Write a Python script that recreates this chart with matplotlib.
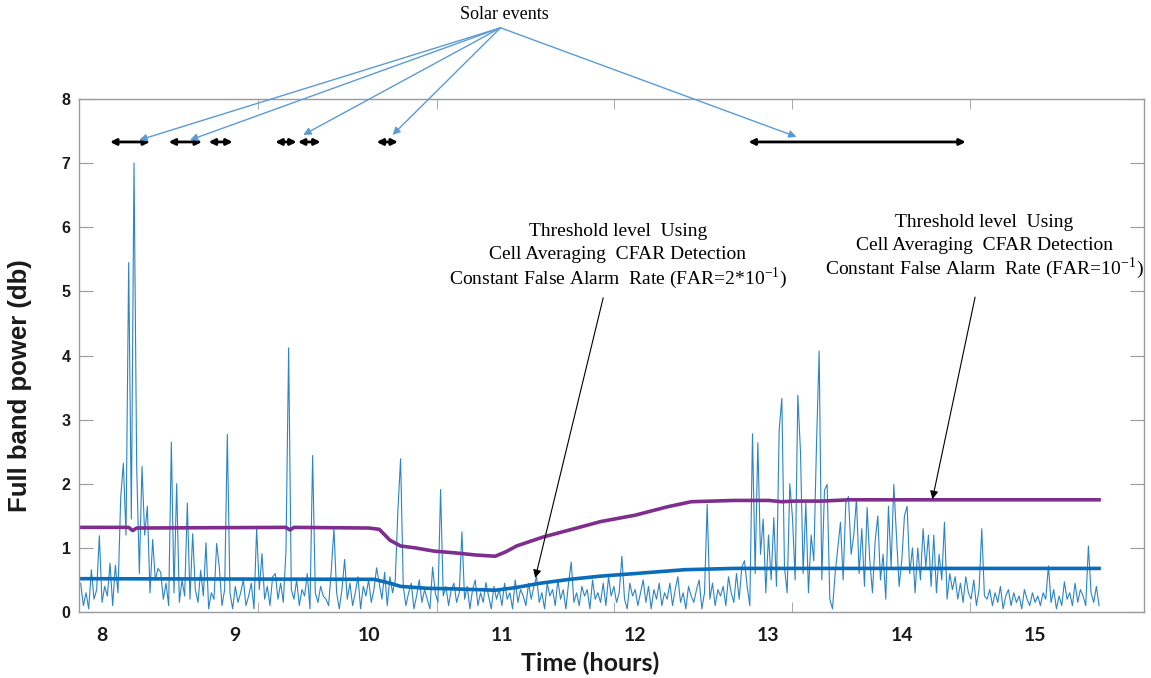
import numpy as np
import matplotlib
matplotlib.use("Agg")
import matplotlib.pyplot as plt

# full band power, one value every 0.02 h starting at 7.84 h
t_start = 7.84
t_step = 0.02
power = [
    0.45, 0.10, 0.30, 0.05, 0.66, 0.20, 0.35, 1.19, 0.15, 0.40,
    0.25, 0.76, 0.10, 0.73, 0.30, 1.78, 2.32, 1.20, 5.45, 1.45,
    7.00, 2.28, 0.60, 2.27, 1.20, 1.65, 0.30, 1.13, 0.50, 0.68,
    0.62, 0.20, 0.45, 0.10, 2.65, 0.30, 2.00, 0.15, 0.50, 0.25,
    1.70, 0.20, 1.22, 0.35, 0.15, 0.65, 0.25, 1.08, 0.05, 0.30,
    0.20, 1.07, 0.69, 0.10, 0.35, 2.77, 0.30, 0.05, 0.40, 0.15,
    0.30, 0.50, 0.10, 0.25, 0.45, 0.05, 1.31, 0.35, 0.91, 0.20,
    0.40, 0.10, 0.55, 0.60, 0.20, 0.45, 0.15, 0.95, 4.12, 0.35,
    0.20, 0.50, 0.10, 0.35, 0.25, 0.60, 0.05, 2.44, 0.30, 0.15,
    0.40, 0.25, 0.20, 0.10, 0.65, 1.30, 0.30, 0.05, 0.35, 0.82,
    0.20, 0.45, 0.10, 0.30, 0.55, 0.05, 0.40, 0.25, 0.50, 0.15,
    0.35, 0.69, 0.45, 0.20, 0.62, 0.10, 0.55, 0.30, 0.50, 1.60,
    2.39, 0.40, 0.10, 0.30, 0.45, 0.05, 0.25, 0.50, 0.15, 0.35,
    0.20, 0.05, 0.70, 0.30, 0.15, 1.91, 0.25, 0.40, 0.10, 0.35,
    0.45, 0.15, 0.30, 1.25, 0.20, 0.40, 0.05, 0.35, 0.50, 0.10,
    0.30, 0.15, 0.46, 0.25, 0.05, 0.40, 0.20, 0.35, 0.10, 0.45,
    0.20, 0.30, 0.05, 0.50, 0.15, 0.35, 0.25, 0.10, 0.45, 0.20,
    0.40, 0.55, 0.15, 0.30, 0.05, 0.45, 0.25, 0.35, 0.10, 0.50,
    0.20, 0.35, 0.05, 0.45, 0.78, 0.15, 0.30, 0.10, 0.40, 0.25,
    0.35, 0.05, 0.50, 0.20, 0.30, 0.15, 0.45, 0.10, 0.55, 0.25,
    0.40, 0.15, 0.30, 0.87, 0.20, 0.05, 0.45, 0.25, 0.35, 0.10,
    0.30, 0.50, 0.15, 0.40, 0.05, 0.35, 0.20, 0.45, 0.10, 0.30,
    0.20, 0.45, 0.10, 0.35, 0.55, 0.15, 0.30, 0.05, 0.40, 0.25,
    0.15, 0.35, 0.50, 0.05, 0.30, 1.68, 0.20, 0.45, 0.10, 0.35,
    0.25, 0.40, 0.10, 0.55, 0.30, 0.15, 0.60, 0.20, 0.70, 0.80,
    0.40, 0.10, 2.78, 0.60, 2.64, 0.90, 1.45, 0.30, 1.20, 0.50,
    1.47, 0.40, 2.83, 3.33, 0.70, 0.30, 2.00, 1.47, 0.50, 3.38,
    2.50, 0.60, 1.70, 0.30, 1.20, 0.80, 2.60, 4.07, 0.50, 1.90,
    1.99, 0.20, 0.05, 0.60, 1.00, 1.40, 0.50, 1.70, 1.80, 0.90,
    1.20, 1.77, 0.60, 1.30, 0.40, 1.63, 0.80, 0.30, 1.10, 1.50,
    0.50, 0.90, 0.20, 1.65, 0.70, 1.99, 1.20, 0.40, 0.80, 1.50,
    1.65, 0.60, 1.00, 0.30, 1.00, 0.50, 1.30, 0.70, 1.20, 0.40,
    1.20, 0.30, 0.90, 0.50, 1.40, 0.20, 0.60, 0.35, 0.55, 0.20,
    0.45, 0.15, 0.55, 0.30, 0.20, 0.50, 0.10, 0.35, 1.30, 0.25,
    0.20, 0.35, 0.10, 0.30, 0.15, 0.40, 0.05, 0.25, 0.35, 0.10,
    0.30, 0.15, 0.25, 0.05, 0.35, 0.20, 0.10, 0.30, 0.15, 0.25,
    0.10, 0.30, 0.20, 0.72, 0.15, 0.35, 0.05, 0.25, 0.10, 0.47,
    0.20, 0.30, 0.10, 0.45, 0.15, 0.35, 0.25, 0.10, 1.03, 0.30,
    0.15, 0.40, 0.10,
]

# CA-CFAR threshold, FAR = 10^-1 (purple)
thr1_t = [7.84, 8.20, 8.23, 8.26, 9.38, 9.41, 9.44, 10.00, 10.08, 10.16, 10.24, 10.35,
          10.49, 10.66, 10.80, 10.95, 11.03, 11.11, 11.31, 11.49, 11.74, 12.00, 12.24,
          12.42, 12.74, 13.00, 13.10, 13.20, 13.40, 13.60, 14.00, 15.48]
thr1_v = [1.32, 1.32, 1.27, 1.31, 1.32, 1.28, 1.32, 1.31, 1.29, 1.12, 1.03, 1.00,
          0.95, 0.92, 0.89, 0.87, 0.94, 1.03, 1.17, 1.27, 1.41, 1.51, 1.64,
          1.72, 1.74, 1.74, 1.72, 1.73, 1.73, 1.75, 1.75, 1.75]

# CA-CFAR threshold, FAR = 2*10^-1 (blue)
thr2_t = [7.84, 10.04, 10.16, 10.24, 10.44, 10.66, 10.95, 11.10, 11.29, 11.51, 11.74,
          12.00, 12.37, 12.74, 15.48]
thr2_v = [0.52, 0.51, 0.45, 0.40, 0.37, 0.36, 0.34, 0.38, 0.45, 0.51, 0.56,
          0.60, 0.66, 0.68, 0.68]

# solar event intervals (hours)
events = [(8.06, 8.36), (8.50, 8.75), (8.80, 8.98), (9.30, 9.46),
          (9.47, 9.64), (10.06, 10.22), (12.85, 14.48)]
event_level = 7.33
# where the "Solar events" arrows point
event_marks = [(8.28, 7.36), (8.66, 7.36), (9.51, 7.44), (10.18, 7.44), (13.21, 7.41)]

hours = [8, 9, 10, 11, 12, 13, 14, 15]

note1 = ["Threshold level  Using", "Cell Averaging  CFAR Detection",
         r"Constant False Alarm  Rate (FAR=2*10$^{\mathregular{-1}}$)"]
note2 = ["Threshold level  Using", "Cell Averaging  CFAR Detection",
         r"Constant False Alarm  Rate (FAR=10$^{\mathregular{-1}}$)"]

time = t_start + t_step * np.arange(len(power))

plt.rcParams["mathtext.fontset"] = "stix"

fig = plt.figure(figsize=(11.51, 6.78), dpi=100)
ax = fig.add_axes([0.0686, 0.0973, 0.9253, 0.7567])

ax.plot(time, power, color="#2b84c6", lw=0.8)
ax.plot(thr2_t, thr2_v, color="#0a6dbb", lw=2.6)
ax.plot(thr1_t, thr1_v, color="#7e2f8e", lw=2.6)

ax.set_xlim(7.827, 15.817)
ax.set_ylim(0, 8)

for s in ax.spines.values():
    s.set_color("#9a9a9a")
    s.set_linewidth(1.0)

ax.set_xticks(hours)
ax.set_xticklabels([str(h) for h in hours], fontfamily="Lato", fontweight="bold",
                   fontsize=14, color="#1a1a1a")
ax.tick_params(axis="x", which="major", length=0, pad=11)
ax.set_xticks([9.17, 10.51, 11.84, 13.18, 14.51], minor=True)
ax.tick_params(axis="x", which="minor", direction="in", length=7, color="#9a9a9a",
               top=True, bottom=True)

ax.set_yticks(range(0, 9))
ax.set_yticklabels([str(v) for v in range(0, 9)], fontfamily="Liberation Sans",
                   fontweight="bold", fontsize=11.5, color="#1a1a1a")
ax.tick_params(axis="y", direction="in", length=10, color="#9a9a9a", right=True, pad=6)

ax.set_xlabel("Time (hours)", fontfamily="Lato", fontweight="bold", fontsize=18,
              color="#1a1a1a", va="center")
ax.xaxis.set_label_coords(0.48, -0.099)
ax.set_ylabel("Full band power (db)", fontfamily="Liberation Sans", fontweight="bold",
              fontsize=18.5, color="#1a1a1a", va="center")
ax.yaxis.set_label_coords(-0.055, 0.442)

# solar event spans
for a, b in events:
    ax.annotate("", xy=(a, event_level), xytext=(b, event_level),
                arrowprops=dict(arrowstyle="<|-|>", color="black", lw=2,
                                mutation_scale=9, shrinkA=0, shrinkB=0))

serif = "Liberation Serif"

ax.text(11.02, 9.31, "Solar events", ha="center", va="center", fontfamily=serif,
        fontsize=13, clip_on=False)
for x, y in event_marks:
    ax.annotate("", xy=(x, y), xytext=(10.99, 9.11), annotation_clip=False,
                arrowprops=dict(arrowstyle="-|>", color="#5b9bd5", lw=1,
                                mutation_scale=11, shrinkA=0, shrinkB=0))

# one text per line so the superscript does not stretch the spacing
line_gap = 0.36
for i, line in enumerate(note1):
    ax.text(11.87, 5.93 - i * line_gap, line, ha="center", va="center",
            fontfamily=serif, fontsize=14)
ax.annotate("", xy=(11.25, 0.53), xytext=(11.76, 4.90),
            arrowprops=dict(arrowstyle="-|>", color="black", lw=0.8,
                            mutation_scale=12, shrinkA=0, shrinkB=0))

for i, line in enumerate(note2):
    ax.text(14.62, 6.08 - i * line_gap, line, ha="center", va="center",
            fontfamily=serif, fontsize=14, clip_on=False)
ax.annotate("", xy=(14.23, 1.76), xytext=(14.55, 4.91),
            arrowprops=dict(arrowstyle="-|>", color="black", lw=0.8,
                            mutation_scale=12, shrinkA=0, shrinkB=0))

fig.savefig("out.png", dpi=100)
